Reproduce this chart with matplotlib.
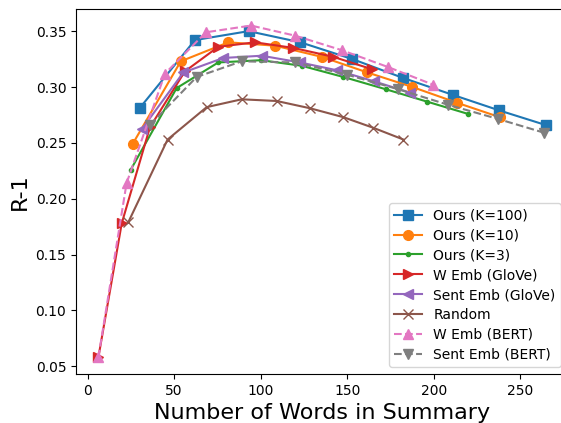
import matplotlib
matplotlib.use("Agg")
import matplotlib.pyplot as plt

# ------------------------------------------------------------
# R-1 score vs. number of words in the summary, per method
# ------------------------------------------------------------

k100_x = [30, 62, 93, 123, 153, 182.5, 211, 238, 264.7]
k100_y = [0.281, 0.342, 0.350, 0.340, 0.325, 0.308, 0.293, 0.279, 0.266]

k10_x = [26, 53.8, 81.3, 108.3, 135.3, 161.7, 187.7, 213.3, 238.2]
k10_y = [0.249, 0.323, 0.340, 0.337, 0.327, 0.313, 0.300, 0.286, 0.273]

k3_x = [24.9, 51.4, 75.5, 100.2, 123.7, 147.8, 172.3, 196, 219.7]
k3_y = [0.226, 0.299, 0.322, 0.324, 0.319, 0.309, 0.298, 0.287, 0.276]

wglove_x = [6.2, 19.7, 36, 56.2, 75.5, 96.7, 118.9, 142, 164.2]
wglove_y = [0.058, 0.178, 0.264, 0.314, 0.336, 0.340, 0.335, 0.327, 0.316]

sglove_x = [31.2, 55.3, 78.4, 100.6, 122.7, 144, 165.7, 186.3]
sglove_y = [0.262, 0.313, 0.326, 0.328, 0.322, 0.315, 0.305, 0.295]

rand_x = [23.5, 46.2, 68.8, 89, 109.2, 128.5, 147.8, 165.1, 182.5]
rand_y = [0.179, 0.253, 0.282, 0.289, 0.2875, 0.281, 0.273, 0.2635, 0.253]

wbert_x = [6.2, 22.5, 44.7, 68.4, 94.4, 119.8, 146.8, 173.4, 199.8]
wbert_y = [0.058, 0.214, 0.312, 0.349, 0.355, 0.346, 0.333, 0.318, 0.302]

sbert_x = [36, 63, 89, 120, 150, 179.5, 208.5, 237, 264]
sbert_y = [0.266, 0.309, 0.323, 0.322, 0.311, 0.298, 0.284, 0.2715, 0.259]

fig = plt.figure(figsize=(5.61, 4.23), dpi=100)
ax = fig.add_axes([0.1355, 0.1158, 0.877, 0.863])

ms = 7
ax.plot(k100_x, k100_y, marker='s', markersize=ms, label="Ours (K=100)")
ax.plot(k10_x, k10_y, marker='o', markersize=ms, label="Ours (K=10)")
ax.plot(k3_x, k3_y, marker='.', label="Ours (K=3)")
ax.plot(wglove_x, wglove_y, marker='>', markersize=ms, label="W Emb (GloVe)")
ax.plot(sglove_x, sglove_y, marker='<', markersize=ms, label="Sent Emb (GloVe)")
ax.plot(rand_x, rand_y, marker='x', markersize=ms, label="Random")
ax.plot(wbert_x, wbert_y, marker='^', markersize=ms, linestyle='--',
        label="W Emb (BERT)")
ax.plot(sbert_x, sbert_y, marker='v', markersize=ms, linestyle='--',
        label="Sent Emb (BERT)")

ax.set_xticks([0, 50, 100, 150, 200, 250])
ax.set_yticks([0.05, 0.10, 0.15, 0.20, 0.25, 0.30, 0.35])
ax.tick_params(labelsize=10)
ax.set_xlabel("Number of Words in Summary", fontsize=16)
ax.set_ylabel("R-1", fontsize=16)
ax.legend(loc="lower right", fontsize=10, labelspacing=0.42)

fig.savefig("out.png", dpi=100)
